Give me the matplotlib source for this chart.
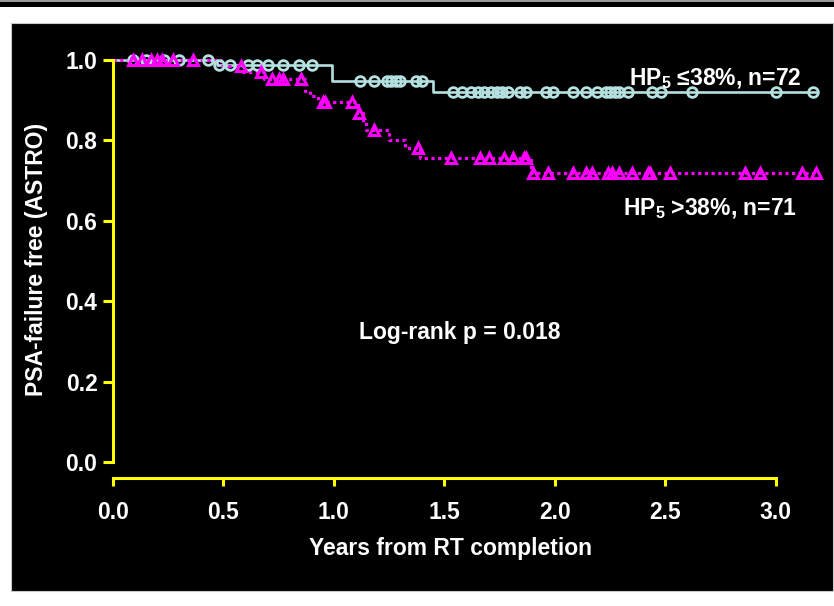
import numpy as np
import matplotlib
matplotlib.use("Agg")
import matplotlib.pyplot as plt
from matplotlib.patches import Rectangle

plt.rcParams["font.family"] = ["Liberation Sans", "DejaVu Sans"]
plt.rcParams["font.weight"] = "bold"
plt.rcParams["mathtext.fontset"] = "custom"
plt.rcParams["mathtext.rm"] = "Liberation Sans:bold"

# Kaplan-Meier steps (time in years, survival after the step)
low_times = [0.0, 0.47, 0.99, 1.45]
low_surv = [1.0, 0.989, 0.948, 0.920]
low_censor = [0.09, 0.15, 0.23, 0.30, 0.43,
              0.48, 0.53, 0.61, 0.65, 0.70, 0.77, 0.84, 0.90,
              1.12, 1.18, 1.24, 1.26, 1.28, 1.30, 1.37, 1.40,
              1.54, 1.58, 1.62, 1.65, 1.68, 1.71, 1.74, 1.76, 1.79, 1.84, 1.87,
              1.96, 1.99, 2.08, 2.14, 2.19, 2.23, 2.25, 2.27, 2.29, 2.33,
              2.44, 2.48, 2.62, 3.00, 3.17]

high_times = [0.0, 0.49, 0.59, 0.685, 0.87, 0.89, 0.93, 1.11, 1.13, 1.145,
              1.25, 1.32, 1.39, 1.89]
high_surv = [1.0, 0.986, 0.971, 0.953, 0.924, 0.911, 0.896, 0.868, 0.846, 0.826,
             0.801, 0.781, 0.756, 0.719]
high_censor = [0.09, 0.13, 0.17, 0.20, 0.22, 0.27, 0.36,
               0.58, 0.67, 0.72, 0.75, 0.77, 0.85,
               0.95, 0.96, 1.08, 1.115, 1.18, 1.38,
               1.53, 1.66, 1.70, 1.77, 1.81, 1.86, 1.87,
               1.90, 1.97, 2.08, 2.14, 2.17, 2.24, 2.26, 2.29, 2.35, 2.42, 2.43,
               2.52, 2.86, 2.93, 3.12, 3.18]
end_time = 3.18

low_label = "HP$_\\mathrm{5}$ \u226438%, n=72"
high_label = "HP$_\\mathrm{5}$ >38%, n=71"
p_label = "Log-rank p = 0.018"

cyan = "#b4e0e0"
magenta = "#ff00ff"
yellow = "#ffff00"


def surv_at(times, surv, t):
    idx = np.searchsorted(times, t, side="right") - 1
    return np.asarray(surv)[idx]


fig = plt.figure(figsize=(8.34, 6.06), dpi=100)
fig.patch.set_facecolor("white")
# black slide panel and top bar
fig.add_artist(Rectangle((11 / 834, 15 / 606), 822 / 834, 568 / 606,
                         transform=fig.transFigure, facecolor="black",
                         edgecolor="#c8c8c8", lw=0.8, zorder=0))
fig.add_artist(Rectangle((0, 599 / 606), 1, 5 / 606, transform=fig.transFigure,
                         facecolor="black", edgecolor="none", zorder=0))
fig.add_artist(Rectangle((0, 604 / 606), 1, 2 / 606, transform=fig.transFigure,
                         facecolor="#9a9a9a", edgecolor="none", zorder=0))

ax = fig.add_axes([113 / 834, 128 / 606, 707 / 834, 438 / 606])
ax.set_facecolor("none")
ax.set_zorder(2)

# curves
ax.step(list(low_times) + [end_time], list(low_surv) + [low_surv[-1]],
        where="post", color=cyan, lw=1.9)
ax.step(list(high_times) + [end_time], list(high_surv) + [high_surv[-1]],
        where="post", color=magenta, lw=2.3, linestyle=(0, (1, 1.1)))

ax.plot(low_censor, surv_at(low_times, low_surv, low_censor), "o", ls="none",
        mfc="none", mec=cyan, ms=7, mew=2.0, clip_on=False)
ax.plot(high_censor, surv_at(high_times, high_surv, high_censor), "^", ls="none",
        mfc="none", mec=magenta, ms=7, mew=2.2, clip_on=False)

ax.set_xlim(0, 3.2)
ax.set_ylim(-0.0398, 1.05)
for side in ["top", "right"]:
    ax.spines[side].set_visible(False)
ax.spines["left"].set_bounds(0, 1)
ax.spines["bottom"].set_bounds(0, 3)
for side in ["left", "bottom"]:
    ax.spines[side].set_color(yellow)
    ax.spines[side].set_linewidth(2.2)

ax.set_xticks(np.arange(0, 3.01, 0.5))
ax.set_yticks(np.arange(0, 1.01, 0.2))
ax.set_xticklabels([f"{v:.1f}" for v in np.arange(0, 3.01, 0.5)])
ax.set_yticklabels([f"{v:.1f}" for v in np.arange(0, 1.01, 0.2)])
ax.tick_params(axis="x", colors=yellow, labelcolor="white", labelsize=16.5,
               length=5.8, width=2.2, pad=11)
ax.tick_params(axis="y", colors=yellow, labelcolor="white", labelsize=16.5,
               length=7.2, width=2.2, pad=4)

ax.set_xlabel("Years from RT completion", color="white", fontsize=16.5,
              fontweight="bold")
ax.xaxis.set_label_coords(0.477, -0.135)
ax.set_ylabel("PSA-failure free (ASTRO)", color="white", fontsize=16.5,
              fontweight="bold", labelpad=13)

ax.text(3.118, 0.938, low_label, color="white", fontsize=16.5,
        fontweight="bold", ha="right", va="baseline")
ax.text(3.095, 0.614, high_label, color="white", fontsize=16.5,
        fontweight="bold", ha="right", va="baseline")
ax.text(1.568, 0.306, p_label, color="white", fontsize=16.5,
        fontweight="bold", ha="center", va="baseline")

fig.savefig("out.png", dpi=100, facecolor=fig.get_facecolor())
